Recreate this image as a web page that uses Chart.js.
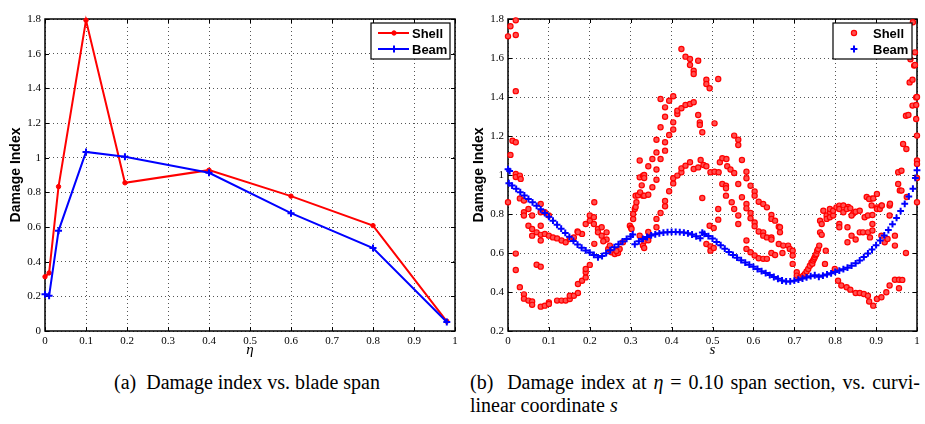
<!DOCTYPE html>
<html>
<head>
<meta charset="utf-8">
<script src="https://cdn.jsdelivr.net/npm/chart.js@4.4.0/dist/chart.umd.min.js"></script>
<style>
  body { margin: 0; width: 925px; height: 424px; background: #fff; position: relative; overflow: hidden; }
  canvas { position: absolute; top: 0; }
  #spanChart { left: 0; }
  #sectionChart { left: 463px; }
  .caption { position: absolute; font-family: "Liberation Serif", "Times New Roman", serif; font-size: 20px; color: #000; white-space: nowrap; line-height: 23px; }
  #capA { left: 0; width: 494px; text-align: center; top: 371px; }
  #capB1 { left: 470px; width: 450px; top: 371px; text-align: justify; text-align-last: justify; }
  #capB2 { left: 470px; top: 394px; }
</style>
</head>
<body>
<canvas id="spanChart" width="463" height="365"></canvas>
<canvas id="sectionChart" width="462" height="365"></canvas>
<div class="caption" id="capA">(a)&nbsp; Damage index vs. blade span</div>
<div class="caption" id="capB1">(b)&nbsp; Damage index at <i>η</i> = 0.10 span section, vs. curvi-</div>
<div class="caption" id="capB2">linear coordinate <i>s</i></div>
<script>
//============================================= Data =============================================//
// (a) damage index along the blade span
const spanEta = [0, 0.01, 0.033, 0.1, 0.195, 0.4, 0.6, 0.8, 0.98];
const spanShell = [0.313, 0.335, 0.833, 1.793, 0.855, 0.928, 0.778, 0.608, 0.056];
const spanBeam = [0.212, 0.203, 0.578, 1.033, 1.005, 0.913, 0.68, 0.479, 0.052];

// (b) shell model, eta = 0.10 section (s, damage index)
const shellS = [
  0, 0.006, 0.019, 0.019, 0.019, 0.011, 0.019, 0.006, 0, 0.019,
  0.019, 0.029, 0.031,
  0.029, 0.039, 0.039, 0.039, 0.05, 0.05, 0.059, 0.059, 0.059, 0.07,
  0.08, 0.08, 0.08, 0.08, 0.08, 0.09, 0.09, 0.1, 0.1, 0.11,
  0.12, 0.131, 0.141, 0.151, 0.161, 0.17, 0.181,
  0.019, 0.019, 0.029, 0.039, 0.039, 0.05, 0.059, 0.059, 0.07, 0.08,
  0.08, 0.09, 0.1, 0.1, 0.12, 0.131, 0.141, 0.151, 0.151, 0.161,
  0.171, 0.171, 0.181, 0.19, 0.19, 0.19, 0.2,
  0.171, 0.19, 0.2, 0.2, 0.21, 0.211, 0.21, 0.22, 0.22, 0.229,
  0.229, 0.211, 0.241, 0.241, 0.245, 0.253, 0.261, 0.269, 0.249, 0.273,
  0.281, 0.233, 0.265,
  0.298, 0.301, 0.306, 0.306, 0.31, 0.312, 0.314, 0.312, 0.318, 0.322,
  0.322, 0.33, 0.33, 0.327, 0.302, 0.322, 0.33, 0.333, 0.343, 0.333,
  0.343, 0.323, 0.333, 0.343, 0.333, 0.333,
  0.343, 0.353, 0.353, 0.363, 0.363, 0.363, 0.363, 0.373, 0.373, 0.373,
  0.373, 0.363, 0.363, 0.384, 0.384, 0.384, 0.384, 0.384, 0.384, 0.394,
  0.394, 0.394, 0.404, 0.404, 0.404, 0.404, 0.404, 0.414, 0.414, 0.414,
  0.424, 0.424, 0.424, 0.424, 0.434, 0.434, 0.434, 0.445, 0.445, 0.445,
  0.445, 0.454, 0.454, 0.454, 0.454, 0.465, 0.465, 0.465, 0.469, 0.469,
  0.471, 0.475, 0.478, 0.485, 0.485, 0.485, 0.493, 0.514, 0.505, 0.475,
  0.493, 0.503, 0.514, 0.514, 0.485, 0.495, 0.495, 0.503, 0.495, 0.505,
  0.515, 0.518, 0.524, 0.534, 0.536, 0.544, 0.553, 0.563, 0.572, 0.583,
  0.583, 0.593, 0.603, 0.603, 0.613, 0.624, 0.633, 0.644, 0.644, 0.653,
  0.662, 0.553, 0.563, 0.563, 0.524, 0.533, 0.533, 0.533, 0.547, 0.553,
  0.563, 0.563, 0.572, 0.583, 0.583, 0.593, 0.593, 0.603, 0.603, 0.613,
  0.624, 0.624, 0.633, 0.644, 0.644, 0.583, 0.583, 0.593, 0.603, 0.613,
  0.624, 0.633, 0.644, 0.653, 0.662, 0.671,
  0.665, 0.665, 0.673, 0.685, 0.689, 0.696, 0.696, 0.696, 0.706, 0.706,
  0.714, 0.722, 0.726, 0.73, 0.734, 0.738, 0.742, 0.744, 0.746, 0.748,
  0.75, 0.752, 0.754, 0.756, 0.758, 0.761, 0.777, 0.775, 0.763, 0.767,
  0.763, 0.767, 0.799,
  0.771, 0.779, 0.779, 0.787, 0.787, 0.787, 0.795, 0.795, 0.803, 0.81,
  0.81, 0.81, 0.81, 0.82, 0.832, 0.844, 0.83, 0.83, 0.82, 0.828,
  0.837, 0.84, 0.84, 0.85, 0.85, 0.86, 0.86, 0.868, 0.872, 0.877,
  0.88, 0.88, 0.885, 0.889, 0.889, 0.891, 0.891, 0.891, 0.883, 0.893,
  0.902, 0.902, 0.902, 0.909, 0.913, 0.914, 0.913, 0.921, 0.928, 0.933,
  0.933, 0.934, 0.946, 0.946,
  0.807, 0.815, 0.828, 0.837, 0.85, 0.86, 0.87, 0.88, 0.883, 0.893,
  0.902, 0.913, 0.925, 0.933, 0.946, 0.956, 0.964, 0.956,
  0.954, 0.954, 0.958, 0.962, 0.975, 0.973, 0.973, 0.966, 0.974, 0.982,
  0.989, 0.989, 0.993, 0.995, 0.998, 0.998, 0.99, 0.998, 1, 1,
  1, 1, 0.984, 0.995, 1, 1, 0.979, 0.962
];
const shellD = [
  1.711, 1.763, 1.793, 1.718, 1.43, 1.176, 1.168, 1.103, 0.86, 1.005,
  0.99, 0.997, 0.98,
  0.88, 0.869, 0.809, 0.792, 0.826, 0.74, 0.792, 0.723, 0.689, 0.706,
  0.851, 0.809, 0.74, 0.693, 0.664, 0.809, 0.698, 0.792, 0.689, 0.68,
  0.675, 0.664, 0.655, 0.672, 0.68, 0.71, 0.698,
  0.597, 0.513, 0.425, 0.388, 0.366, 0.356, 0.351, 0.334, 0.54, 0.53,
  0.325, 0.33, 0.347, 0.339, 0.356, 0.356, 0.356, 0.364, 0.381, 0.381,
  0.395, 0.441, 0.458, 0.475, 0.501, 0.518, 0.539,
  0.706, 0.749, 0.792, 0.766, 0.783, 0.86, 0.749, 0.723, 0.706, 0.732,
  0.689, 0.647, 0.706, 0.669, 0.621, 0.604, 0.595, 0.6, 0.638, 0.621,
  0.655, 0.66, 0.61,
  0.74, 0.73, 0.774, 0.8, 0.826, 0.836, 0.86, 0.894, 0.896, 1.074,
  0.988, 0.997, 0.894, 0.947, 0.723, 0.689, 0.638, 0.662, 0.665, 0.626,
  0.708, 0.911, 0.894, 0.899, 1.0, 0.984,
  1.045, 1.082, 0.937, 1.028, 0.976, 1.116, 1.181, 1.082, 1.245, 1.39,
  0.805, 0.775, 0.732, 0.84, 0.867, 1.168, 1.125, 1.347, 1.299, 0.917,
  1.381, 1.205, 0.957, 0.983, 1.404, 1.27, 1.233, 0.997, 1.313, 1.33,
  1.014, 1.034, 1.342, 1.646, 1.048, 1.359, 1.607, 1.065, 1.364, 1.595,
  1.564, 1.031, 1.373, 1.535, 1.518, 1.039, 1.586, 1.308, 1.27, 1.257,
  1.077, 1.219, 1.051, 1.045, 1.489, 1.467, 1.445, 1.492, 1.265, 0.882,
  0.74, 0.728, 0.826, 0.771, 0.646, 0.634, 0.612, 0.626, 1.014, 1.017,
  1.014, 1.065, 1.086, 1.082, 1.045, 1.028, 1.01, 0.954, 1.077, 1.017,
  0.983, 0.945, 0.915, 0.894, 0.863, 0.851, 0.834, 0.795, 0.775, 0.766,
  0.735, 1.202, 1.181, 1.154, 0.954, 0.945, 0.932, 0.894, 0.86, 0.826,
  0.792, 0.749, 0.886, 0.851, 0.829, 0.805, 0.778, 0.757, 0.737, 0.71,
  0.706, 0.689, 0.68, 0.68, 0.669, 0.664, 0.621, 0.604, 0.587, 0.573,
  0.57, 0.57, 0.6, 0.59, 0.646, 0.6,
  0.732, 0.706, 0.638, 0.638, 0.621, 0.612, 0.587, 0.544, 0.501, 0.484,
  0.475, 0.484, 0.493, 0.505, 0.518, 0.535, 0.552, 0.545, 0.561, 0.57,
  0.578, 0.588, 0.595, 0.612, 0.62, 0.638, 0.612, 0.544, 0.766, 0.749,
  0.706, 0.693, 0.518,
  0.817, 0.792, 0.775, 0.809, 0.783, 0.826, 0.792, 0.817, 0.834, 0.843,
  0.826, 0.749, 0.732, 0.844, 0.836, 0.802, 0.732, 0.655, 0.809, 0.826,
  0.829, 0.792, 0.689, 0.812, 0.669, 0.817, 0.706, 0.706, 0.783, 0.887,
  0.792, 0.706, 0.68, 0.879, 0.844, 0.795, 0.749, 0.715, 0.877, 0.88,
  0.903, 0.834, 0.826, 0.826, 0.843, 0.844, 0.689, 0.655, 0.672, 0.843,
  0.792, 0.853, 0.689, 0.638,
  0.458, 0.433, 0.424, 0.412, 0.395, 0.395, 0.39, 0.381, 0.351, 0.33,
  0.364, 0.373, 0.399, 0.433, 0.463, 0.463, 0.462, 0.419,
  0.954, 1.014, 0.921, 0.92, 0.887, 0.6, 1.304, 1.159, 1.133, 1.475,
  1.489, 1.356, 1.561, 1.629, 1.287, 1.359, 1.783, 1.398, 1.202, 1.074,
  1.057, 0.86, 1.593, 1.564, 0.985, 1.4, 1.308, 1.022
];

// (b) beam model, eta = 0.10 section (s, damage index)
const beamS = [
  0, 0.004, 0.002, 0.01, 0.02, 0.03, 0.04, 0.05, 0.06, 0.07,
  0.08, 0.09, 0.1, 0.11, 0.12, 0.13, 0.14, 0.15, 0.16, 0.17,
  0.18, 0.19, 0.2, 0.21, 0.22, 0.23, 0.24, 0.25, 0.26, 0.27,
  0.28, 0.29, 0.3, 0.305, 0.31, 0.32, 0.33, 0.34, 0.35, 0.36,
  0.37, 0.38, 0.39, 0.4, 0.41, 0.42, 0.43, 0.44, 0.45, 0.46,
  0.47, 0.475, 0.48, 0.49, 0.5, 0.51, 0.52, 0.53, 0.54, 0.55,
  0.56, 0.57, 0.58, 0.59, 0.6, 0.61, 0.62, 0.63, 0.64, 0.65,
  0.66, 0.67, 0.68, 0.69, 0.7, 0.71, 0.72, 0.73, 0.74, 0.75,
  0.76, 0.77, 0.78, 0.79, 0.8, 0.81, 0.82, 0.83, 0.84, 0.85,
  0.86, 0.87, 0.88, 0.89, 0.9, 0.91, 0.92, 0.93, 0.94, 0.95,
  0.96, 0.97, 0.98, 0.99, 0.996, 1
];
const beamD = [
  1.03, 1.02, 0.958, 0.946, 0.929, 0.912, 0.895, 0.877, 0.86, 0.842,
  0.824, 0.805, 0.786, 0.766, 0.745, 0.725, 0.703, 0.683, 0.662, 0.643,
  0.627, 0.613, 0.602, 0.59, 0.578, 0.584, 0.599, 0.614, 0.63, 0.645,
  0.659, 0.672, 0.685, 0.695, 0.645, 0.66, 0.672, 0.682, 0.69, 0.696,
  0.701, 0.705, 0.707, 0.708, 0.708, 0.707, 0.705, 0.701, 0.695, 0.686,
  0.676, 0.705, 0.698, 0.687, 0.674, 0.657, 0.64, 0.622, 0.605, 0.59,
  0.576, 0.563, 0.551, 0.54, 0.529, 0.518, 0.507, 0.497, 0.487, 0.477,
  0.468, 0.459, 0.454, 0.454, 0.458, 0.463, 0.469, 0.475, 0.481, 0.486,
  0.478, 0.484, 0.49, 0.496, 0.503, 0.51, 0.517, 0.525, 0.535, 0.547,
  0.562, 0.579, 0.598, 0.618, 0.64, 0.664, 0.69, 0.718, 0.748, 0.78,
  0.815, 0.852, 0.89, 0.93, 0.985, 1.025
];

const legendOrder = ['Shell', 'Beam'];

//============================================= Helpers =============================================//
const RED = '#ff0000';
const BLUE = '#0000ff';
const serif = '"Liberation Serif", "Times New Roman", serif';
const sans = '"Liberation Sans", Arial, sans-serif';

const toPoints = (xs, ys) => xs.map((x, i) => ({ x: x, y: ys[i] }));

function makeScales(yMin, yMax, xTitle) {
    const tickFont = { family: serif, size: 11 };
    const fmt = v => String(+Number(v).toFixed(1));
    return {
        x: {
            type: 'linear',
            min: 0,
            max: 1,
            afterFit: s => { s.height = 34; },
            ticks: { stepSize: 0.1, font: tickFont, color: '#000', padding: 4, maxRotation: 0, autoSkip: false, callback: fmt },
            grid: { color: '#555', lineWidth: 1, drawTicks: false },
            border: { display: false, dash: [1, 3] },
            title: { display: true, text: xTitle, color: '#000', font: { family: serif, size: 15, style: 'italic' }, padding: { top: 0, bottom: 6 } }
        },
        y: {
            type: 'linear',
            min: yMin,
            max: yMax,
            afterFit: s => { s.width = 45; },
            ticks: { stepSize: 0.2, font: tickFont, color: '#000', padding: 4, autoSkip: false, callback: fmt },
            grid: { color: '#555', lineWidth: 1, drawTicks: false },
            border: { display: false, dash: [1, 3] },
            title: { display: true, text: 'Damage Index', color: '#000', font: { family: sans, size: 14, weight: 'bold' }, padding: { top: 8, bottom: 0 } }
        }
    };
}

// axes box with inward tick marks, matlab style
const framePlugin = {
    id: 'frame',
    beforeDatasetsDraw(chart) {
        const { ctx, chartArea: a, scales: { x, y } } = chart;
        ctx.save();
        ctx.strokeStyle = '#000';
        ctx.lineWidth = 1.5;
        ctx.strokeRect(a.left, a.top, a.right - a.left, a.bottom - a.top);
        ctx.lineWidth = 1;
        ctx.beginPath();
        x.ticks.forEach(t => {
            const px = Math.round(x.getPixelForValue(t.value)) + 0.5;
            ctx.moveTo(px, a.bottom); ctx.lineTo(px, a.bottom - 4);
            ctx.moveTo(px, a.top); ctx.lineTo(px, a.top + 4);
        });
        y.ticks.forEach(t => {
            const py = Math.round(y.getPixelForValue(t.value)) + 0.5;
            ctx.moveTo(a.left, py); ctx.lineTo(a.left + 4, py);
            ctx.moveTo(a.right, py); ctx.lineTo(a.right - 4, py);
        });
        ctx.stroke();
        ctx.restore();
    }
};

function drawMarker(ctx, ds, cx, cy) {
    ctx.strokeStyle = ds.pointBorderColor;
    ctx.fillStyle = ds.pointBackgroundColor;
    ctx.lineWidth = ds.pointBorderWidth;
    const r = ds.pointRadius;
    ctx.beginPath();
    if (ds.pointStyle === 'cross') {
        ctx.moveTo(cx - r, cy); ctx.lineTo(cx + r, cy);
        ctx.moveTo(cx, cy - r); ctx.lineTo(cx, cy + r);
        ctx.stroke();
    } else {
        ctx.arc(cx, cy, r, 0, Math.PI * 2);
        ctx.fill();
        ctx.stroke();
    }
}

// legend drawn inside the axes, top right
const boxLegend = {
    id: 'boxLegend',
    afterDraw(chart, args, opts) {
        const { ctx, chartArea: a } = chart;
        const w = opts.width, h = 36;
        const x0 = a.right - 5 - w, y0 = a.top + 4;
        ctx.save();
        ctx.fillStyle = '#fff';
        ctx.fillRect(x0, y0, w, h);
        ctx.strokeStyle = '#000';
        ctx.lineWidth = 1.2;
        ctx.strokeRect(x0, y0, w, h);
        legendOrder.forEach((name, i) => {
            const ds = chart.data.datasets.find(d => d.label === name);
            const cy = y0 + 10 + i * 16;
            if (opts.showLine) {
                ctx.strokeStyle = ds.borderColor;
                ctx.lineWidth = ds.borderWidth;
                ctx.beginPath();
                ctx.moveTo(x0 + 7, cy); ctx.lineTo(x0 + 38, cy);
                ctx.stroke();
            }
            drawMarker(ctx, ds, x0 + opts.markerX, cy);
            ctx.fillStyle = '#000';
            ctx.font = 'bold 13px ' + sans;
            ctx.textBaseline = 'middle';
            ctx.fillText(name, x0 + opts.textX, cy + 1);
        });
        ctx.restore();
    }
};

const baseOptions = (yMin, yMax, xTitle, legendOpts) => ({
    responsive: false,
    animation: false,
    devicePixelRatio: 1,
    layout: { padding: { top: 19, right: 8, left: 0, bottom: 0 } },
    plugins: {
        legend: { display: false },
        tooltip: { enabled: false },
        boxLegend: legendOpts
    },
    scales: makeScales(yMin, yMax, xTitle)
});

//============================================= (a) span chart =============================================//
new Chart(document.getElementById('spanChart'), {
    type: 'line',
    data: {
        datasets: [
            {
                label: 'Beam',
                data: toPoints(spanEta, spanBeam),
                borderColor: BLUE,
                borderWidth: 2,
                pointStyle: 'cross',
                pointRadius: 3.5,
                pointBorderWidth: 2,
                pointBorderColor: BLUE,
                pointBackgroundColor: BLUE,
                clip: false
            },
            {
                label: 'Shell',
                data: toPoints(spanEta, spanShell),
                borderColor: RED,
                borderWidth: 2,
                pointStyle: 'circle',
                pointRadius: 2.2,
                pointBorderWidth: 1,
                pointBorderColor: RED,
                pointBackgroundColor: RED,
                clip: false
            }
        ]
    },
    options: baseOptions(0, 1.8, 'η', { width: 79, showLine: true, markerX: 23, textX: 41 }),
    plugins: [framePlugin, boxLegend]
});

//============================================= (b) section chart =============================================//
new Chart(document.getElementById('sectionChart'), {
    type: 'scatter',
    data: {
        datasets: [
            {
                label: 'Beam',
                data: toPoints(beamS, beamD),
                showLine: false,
                borderColor: BLUE,
                borderWidth: 0,
                pointStyle: 'cross',
                pointRadius: 3.4,
                pointBorderWidth: 2,
                pointBorderColor: BLUE,
                pointBackgroundColor: BLUE,
                clip: false
            },
            {
                label: 'Shell',
                data: toPoints(shellS, shellD),
                showLine: false,
                borderColor: RED,
                borderWidth: 0,
                pointStyle: 'circle',
                pointRadius: 2.6,
                pointBorderWidth: 1.2,
                pointBorderColor: RED,
                pointBackgroundColor: '#ff5050',
                clip: false
            }
        ]
    },
    options: baseOptions(0.2, 1.8, 's', { width: 79, showLine: false, markerX: 21, textX: 40 }),
    plugins: [framePlugin, boxLegend]
});
</script>
</body>
</html>
